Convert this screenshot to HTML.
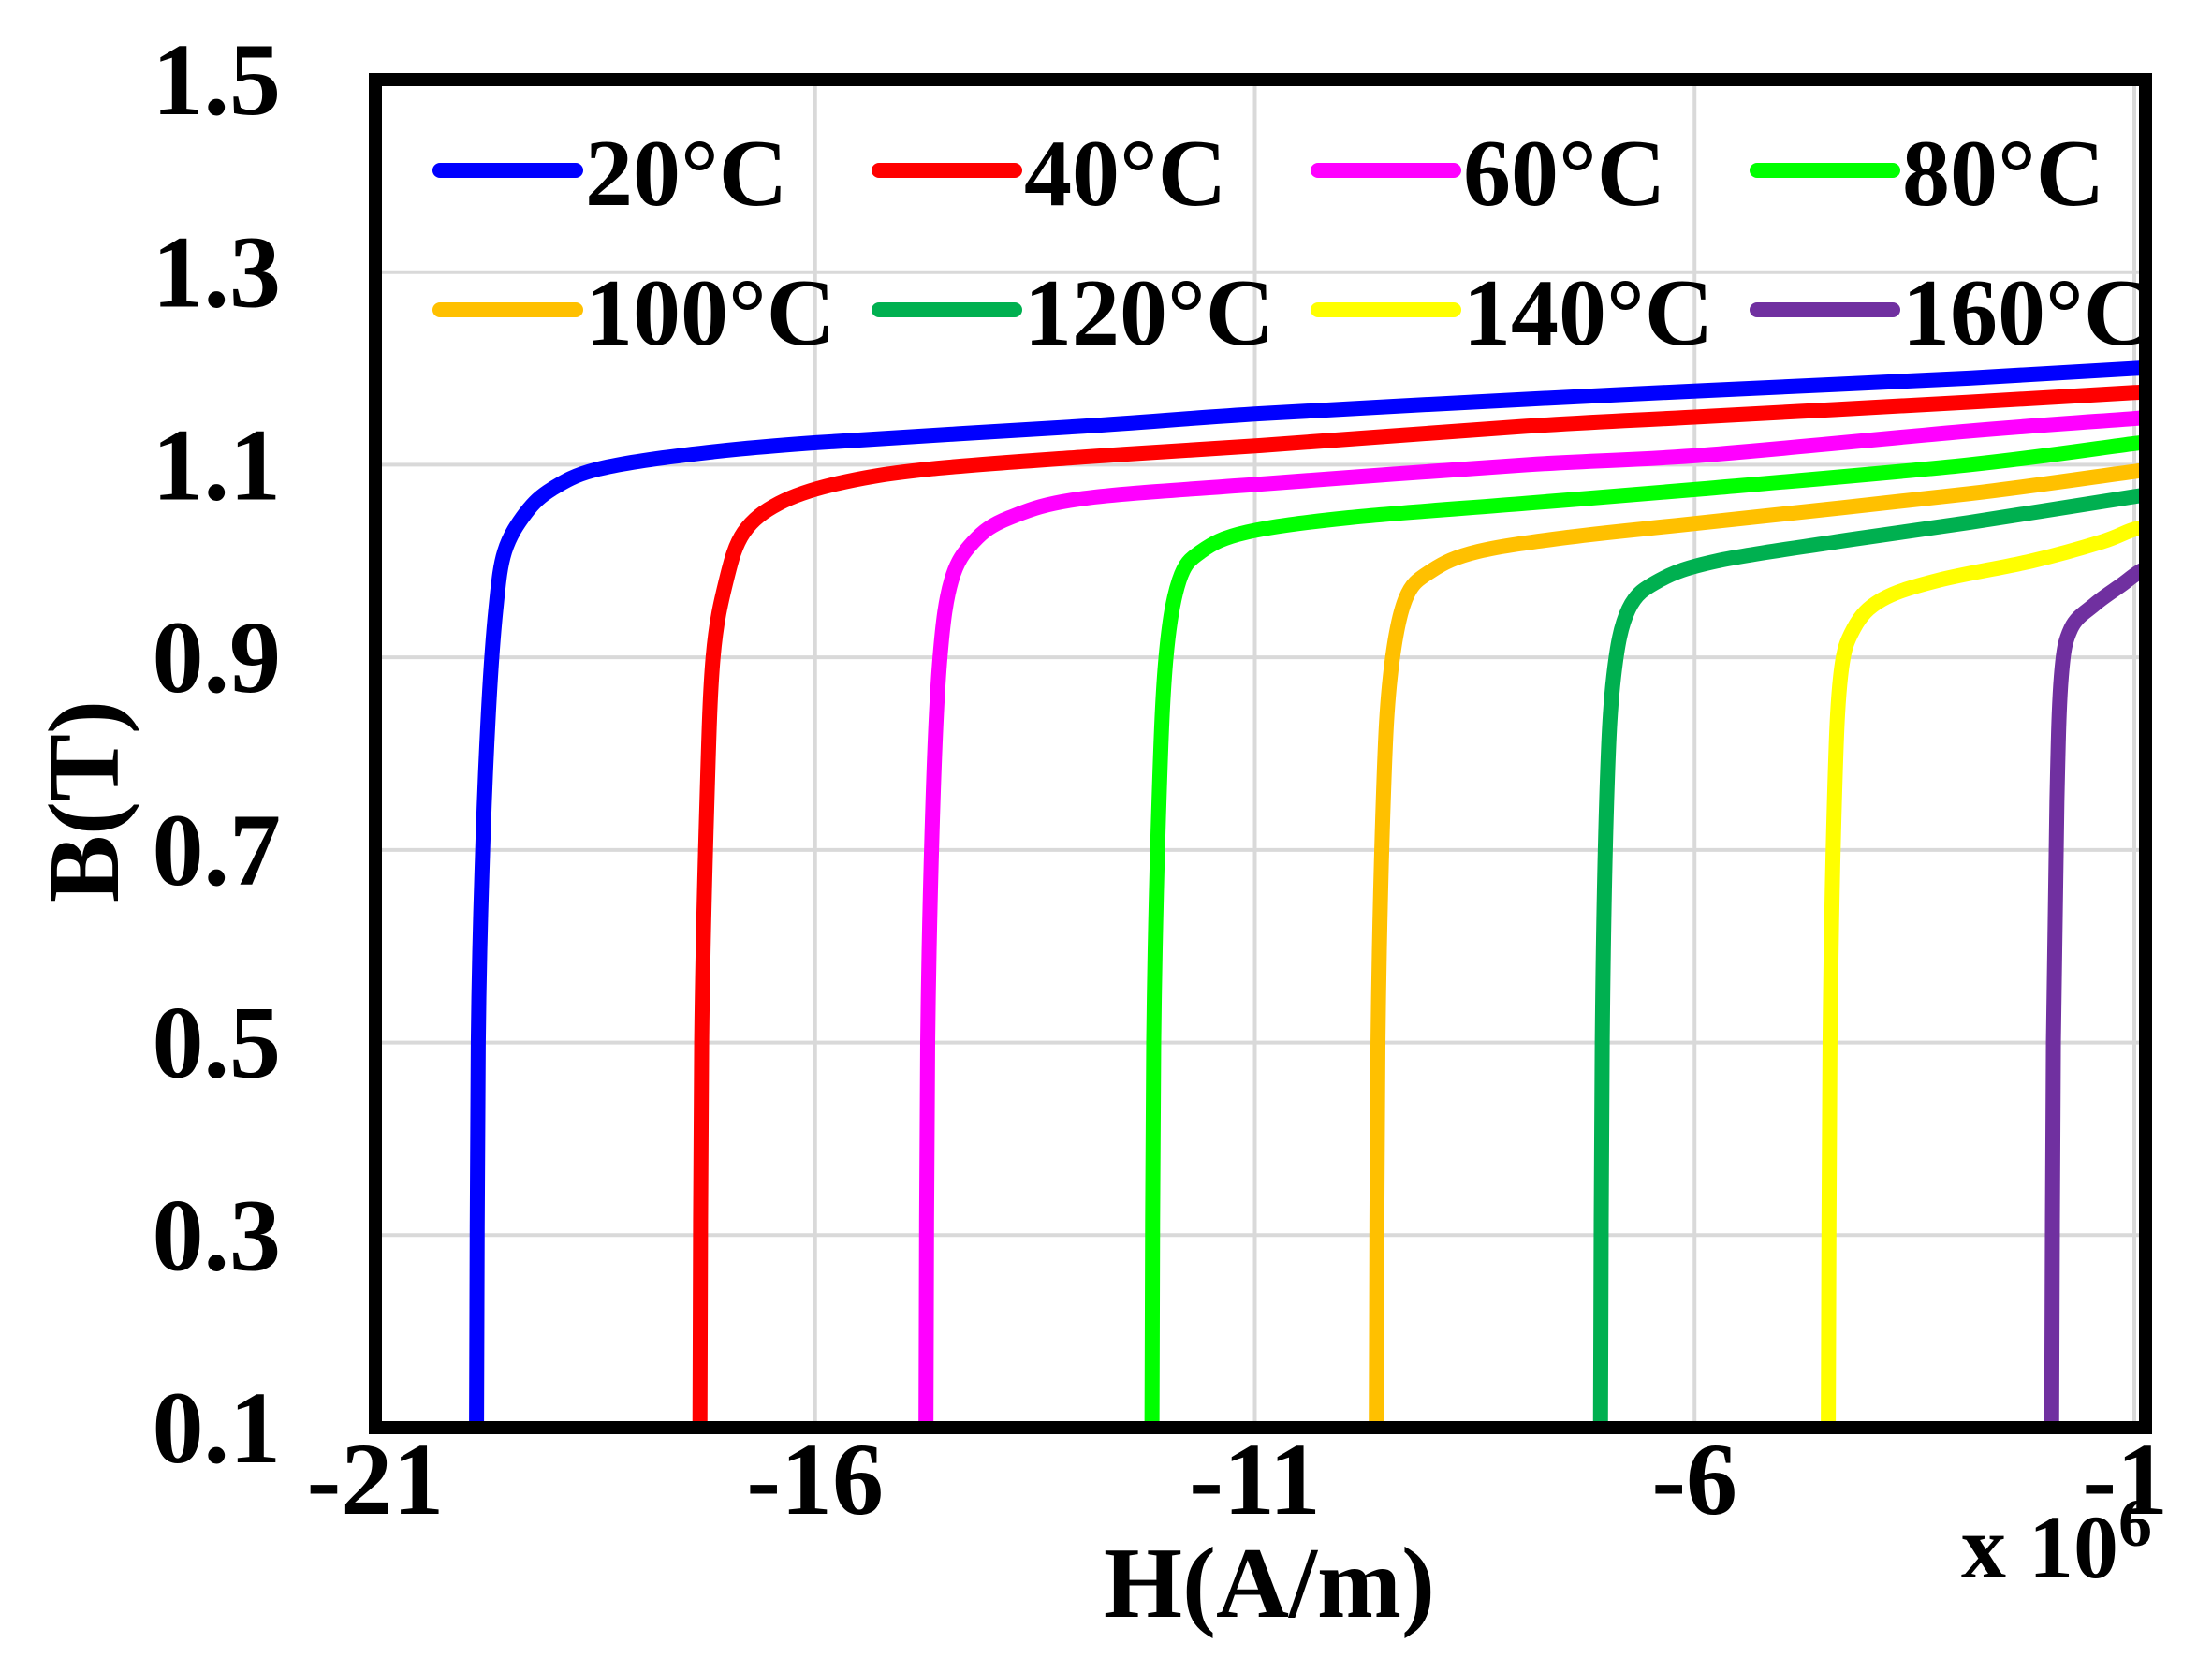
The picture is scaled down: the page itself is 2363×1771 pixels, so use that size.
<!DOCTYPE html>
<html><head><meta charset="utf-8"><style>
html,body{margin:0;padding:0;background:#fff;}
svg{display:block;font-family:"Liberation Serif",serif;font-weight:bold;}
</style></head><body>
<svg id="chart" width="2363" height="1771" viewBox="0 0 2363 1771" xmlns="http://www.w3.org/2000/svg">
<defs><clipPath id="plotclip"><rect x="401" y="85" width="1891" height="1440"/></clipPath></defs>
<g id="grid"></g>
<g id="series" clip-path="url(#plotclip)"></g>
<rect x="401" y="85" width="1891" height="1440" fill="none" stroke="#000" stroke-width="14"/>
<g id="ticks" font-size="110"></g>
<g id="legend" font-size="102"></g>
<text x="1356" y="1727" font-size="108" text-anchor="middle">H(A/m)</text>
<text x="2095" y="1685" font-size="96">x 10<tspan dy="-34" font-size="72">6</tspan></text>
<text x="0" y="0" font-size="108" text-anchor="middle" transform="translate(126,856) rotate(-90)">B(T)</text>
</svg>
<script>
const xTicks = [-21, -16, -11, -6, -1];
const yTicks = [0.1, 0.3, 0.5, 0.7, 0.9, 1.1, 1.3, 1.5];
const seriesNames = ["20°C","40°C","60°C","80°C","100°C","120°C","140°C","160°C"];
const seriesColors = ["#0000ff","#ff0000","#ff00ff","#00ff00","#ffc000","#00b050","#ffff00","#7030a0"];
const h20 = [-19.85,-19.83,-19.78,-19.71,-19.63,-19.53,-19.29,-18.99,-18.49,-17.49,-15.97,-12.95,-10.93,-7.91,-5.9,-2.88,-1];
const b20 = [0.1,0.5,0.7,0.85,0.95,1.01,1.05,1.075,1.095,1.11,1.123,1.14,1.153,1.168,1.177,1.19,1.2];
const h40 = [-17.31,-17.29,-17.23,-17.16,-17.01,-16.81,-16.41,-15.77,-14.76,-12.95,-10.93,-7.91,-5.9,-2.88,-1];
const b40 = [0.1,0.5,0.75,0.9,0.98,1.03,1.06,1.08,1.095,1.108,1.12,1.14,1.15,1.165,1.175];
const h60 = [-14.74,-14.72,-14.66,-14.58,-14.45,-14.2,-13.79,-12.95,-10.93,-7.91,-5.9,-2.88,-1];
const b60 = [0.1,0.5,0.75,0.9,0.98,1.02,1.045,1.065,1.08,1.1,1.11,1.135,1.148];
const h80 = [-12.17,-12.15,-12.09,-12.01,-11.86,-11.61,-11.09,-9.93,-7.91,-5.9,-2.88,-1];
const b80 = [0.1,0.5,0.75,0.9,0.98,1.01,1.03,1.045,1.06,1.075,1.1,1.122];
const h100 = [-9.62,-9.6,-9.54,-9.46,-9.29,-8.99,-8.46,-7.41,-5.9,-2.88,-1];
const b100 = [0.1,0.5,0.75,0.88,0.96,0.99,1.01,1.025,1.04,1.07,1.093];
const h120 = [-7.07,-7.05,-7.0,-6.92,-6.75,-6.4,-5.75,-4.39,-2.88,-1];
const b120 = [0.1,0.5,0.75,0.88,0.95,0.98,1.0,1.02,1.04,1.067];
const h140 = [-4.48,-4.46,-4.41,-4.34,-4.19,-3.87,-3.23,-2.17,-1.37,-1];
const b140 = [0.1,0.5,0.75,0.88,0.93,0.96,0.98,1.0,1.02,1.033];
const h160 = [-1.94,-1.92,-1.88,-1.83,-1.72,-1.45,-1.15,-0.92];
const b160 = [0.1,0.5,0.75,0.88,0.93,0.955,0.975,0.99];
const seriesH = [h20,h40,h60,h80,h100,h120,h140,h160];
const seriesB = [b20,b40,b60,b80,b100,b120,b140,b160];

const NS = "http://www.w3.org/2000/svg";
const X0 = 401, X1 = 2280, XB = 2292, Y0 = 1525, Y1 = 85;
function xs(v){ return X0 + (v - (-21)) / 20 * (X1 - X0); }
function ys(v){ return Y0 - (v - 0.1) / 1.4 * (Y0 - Y1); }
function mk(tag, attrs, parent){ const e = document.createElementNS(NS, tag); for (const k in attrs) e.setAttribute(k, attrs[k]); parent.appendChild(e); return e; }

const grid = document.getElementById('grid');
xTicks.slice(1).forEach(t => {
  const l = mk('line', {x1: xs(t), x2: xs(t), y1: Y1, y2: Y0, stroke: '#d9d9d9', 'stroke-width': 4}, grid);
  
  
});
yTicks.slice(1, -1).forEach(t => {
  const l = mk('line', {x1: X0, x2: XB, y1: ys(t), y2: ys(t), stroke: '#d9d9d9', 'stroke-width': 4}, grid);
  
  
});

const ticks = document.getElementById('ticks');
xTicks.forEach((t, i) => {
  const last = i === xTicks.length - 1;
  const e = mk('text', {x: last ? 2316 : xs(t), y: 1617, 'text-anchor': last ? 'end' : 'middle'}, ticks);
  e.textContent = String(t);
  
  
});
yTicks.forEach(t => {
  const e = mk('text', {x: 300, y: ys(t) + 37, 'text-anchor': 'end'}, ticks);
  e.textContent = t.toFixed(1);
  
  
});

function smoothPath(pts){
  let d = 'M' + pts[0][0] + ',' + pts[0][1];
  for (let i = 0; i < pts.length - 1; i++){
    const p0 = pts[Math.max(0, i-1)], p1 = pts[i], p2 = pts[i+1], p3 = pts[Math.min(pts.length-1, i+2)];
    const c1x = p1[0] + (p2[0]-p0[0])/6, c1y = p1[1] + (p2[1]-p0[1])/6;
    const c2x = p2[0] - (p3[0]-p1[0])/6, c2y = p2[1] - (p3[1]-p1[1])/6;
    d += ' C' + c1x + ',' + c1y + ' ' + c2x + ',' + c2y + ' ' + p2[0] + ',' + p2[1];
  }
  return d;
}
const sg = document.getElementById('series');
seriesH.forEach((hs, i) => {
  const pts = hs.map((h, j) => [xs(h), ys(seriesB[i][j])]);
  pts[0][1] = Y0 + 10;
  const lastPt = pts[pts.length-1];
  pts.push([XB + 10, lastPt[1] - 2]);
  const p = mk('path', {d: smoothPath(pts), fill: 'none', stroke: seriesColors[i], 'stroke-width': 16, 'stroke-linejoin': 'round'}, sg);
  
  
});

const leg = document.getElementById('legend');
seriesNames.forEach((n, i) => {
  const col = i % 4, row = Math.floor(i / 4);
  const x = 470 + col * 469, y = 182 + row * 149;
  const g = mk('g', {}, leg);
  
  
  mk('line', {x1: x, x2: x + 145, y1: y, y2: y, stroke: seriesColors[i], 'stroke-width': 16, 'stroke-linecap': 'round'}, g);
  const t = mk('text', {x: x + 155, y: y + 37}, g);
  t.textContent = n;
});
</script>
</body></html>
